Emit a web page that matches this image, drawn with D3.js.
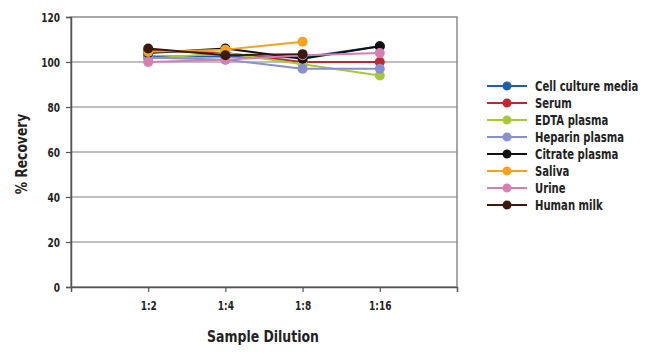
<!DOCTYPE html>
<html><head><meta charset="utf-8">
<script src="https://cdn.jsdelivr.net/npm/d3@7"></script>
<style>
body{margin:0;background:#fff;}
text{font-family:"DejaVu Sans",sans-serif;font-weight:bold;fill:#222;}
</style></head><body>
<svg id="c" width="650" height="357"></svg>
<script>
const categories = ["1:2","1:4","1:8","1:16"];
const yTicks = [0,20,40,60,80,100,120];
const seriesNames = ["Cell culture media","Serum","EDTA plasma","Heparin plasma","Citrate plasma","Saliva","Urine","Human milk"];
const seriesColors = ["#1f5fa8","#c0282d","#a6c93a","#8a8fd0","#111111","#f5a21e","#d77fb3","#3b1a10"];
const cellCulture = [102.5, 102.5, 102, 107];
const serum       = [105, 104, 100, 100];
const edta        = [101.5, 104, 99, 94];
const heparin     = [102, 101, 97, 97];
const citrate     = [104, 106, 101.5, 107];
const saliva      = [104.5, 105.5, 109, null];
const urine       = [100, 101, 103, 104];
const humanMilk   = [106, 103, 103.5, null];
const seriesValues = [cellCulture, serum, edta, heparin, citrate, saliva, urine, humanMilk];

// horizontal condensing about the text anchor point (emulates a condensed font)
function condense(sel, s){
  sel.each(function(){
    const t = d3.select(this);
    const ax = +(t.attr("x")||0);
    const prev = t.attr("transform")||"";
    t.attr("transform", prev + ` matrix(${s},0,0,1,${ax*(1-s)},0)`);
  });
}

const svg = d3.select("#c");
const L=71, R=457, T=17, B=287;
const x = d3.scalePoint().domain(["",...categories,"  "]).range([L,R]);
const y = d3.scaleLinear().domain([0,120]).range([B,T]);

svg.append("g").selectAll("line").data(yTicks.filter(d=>d>0&&d<120)).join("line")
  .attr("x1",L).attr("x2",R).attr("y1",d=>y(d)).attr("y2",d=>y(d))
  .attr("stroke","#aaaaaa").attr("stroke-width",1.5);
svg.append("rect").attr("x",L).attr("y",T).attr("width",R-L).attr("height",B-T)
  .attr("fill","none").attr("stroke","#8a8a8a").attr("stroke-width",1.5);

const ya = svg.append("g").attr("transform",`translate(${L},0)`)
  .call(d3.axisLeft(y).tickValues(yTicks).tickSize(5).tickPadding(6));
ya.select(".domain").attr("stroke","#555").attr("stroke-width",1.5);
ya.selectAll(".tick line").attr("stroke","#555").attr("stroke-width",1.2);
ya.selectAll("text").style("font-size","12.5px").attr("fill","#222").call(condense,0.72);

const xa = svg.append("g").attr("transform",`translate(0,${B})`)
  .call(d3.axisBottom(x).tickValues(categories).tickSize(5).tickPadding(9));
xa.select(".domain").attr("stroke","#555").attr("stroke-width",1.5);
xa.selectAll(".tick line").attr("stroke","#555").attr("stroke-width",1.2);
xa.selectAll("text").style("font-size","12.5px").attr("fill","#222").call(condense,0.72);

svg.append("text").attr("x",(L+R)/2 - 1).attr("y",342).attr("text-anchor","middle")
  .style("font-size","16px").text("Sample Dilution").call(condense,0.78);
svg.append("g").attr("transform",`translate(27,${(T+B)/2 + 2}) rotate(-90)`)
  .append("text").attr("x",0).attr("y",0).attr("text-anchor","middle")
  .style("font-size","16px").text("% Recovery").call(condense,0.77);

const line = d3.line().defined(d=>d.v!=null).x(d=>x(d.c)).y(d=>y(d.v));
seriesValues.forEach((vals,i)=>{
  const pts = vals.map((v,j)=>({c:categories[j],v}));
  const g = svg.append("g");
  g.append("path").datum(pts).attr("d",line).attr("fill","none")
    .attr("stroke",seriesColors[i]).attr("stroke-width",2);
  g.selectAll("circle").data(pts.filter(d=>d.v!=null)).join("circle")
    .attr("cx",d=>x(d.c)).attr("cy",d=>y(d.v)).attr("r",5).attr("fill",seriesColors[i]);
});

const lg = svg.append("g");
seriesNames.forEach((n,i)=>{
  const yy = 86 + i*17;
  lg.append("line").attr("x1",487).attr("x2",527).attr("y1",yy).attr("y2",yy)
    .attr("stroke",seriesColors[i]).attr("stroke-width",2);
  lg.append("circle").attr("cx",507).attr("cy",yy).attr("r",4.5).attr("fill",seriesColors[i]);
  lg.append("text").attr("x",535).attr("y",yy+5).style("font-size","14px").text(n).call(condense,0.72);
});
</script></body></html>
